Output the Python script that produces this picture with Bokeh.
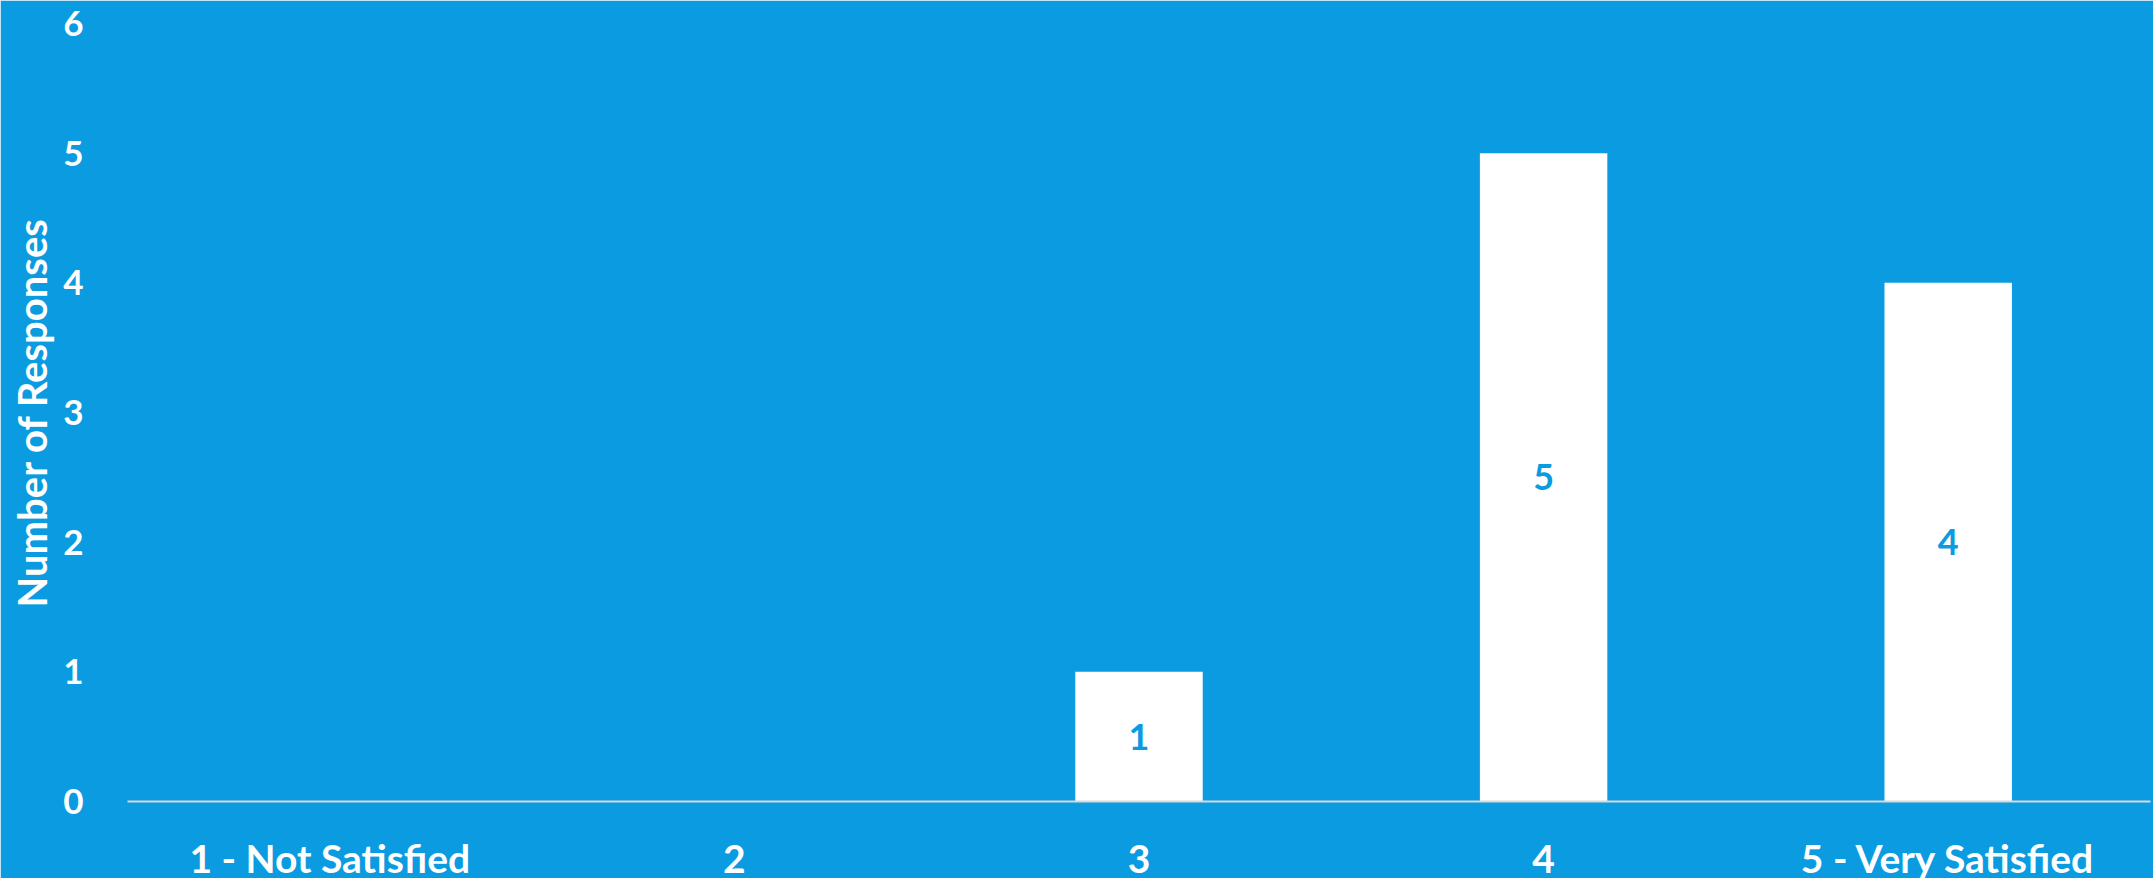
from bokeh.plotting import figure
from bokeh.models import ColumnDataSource, FixedTicker, LabelSet
from bokeh.core.properties import value
from bokeh.embed import file_html
from bokeh.resources import INLINE

# ---- data ----
categories = ["1 - Not Satisfied", "2", "3", "4", "5 - Very Satisfied"]
responses = [0, 0, 1, 5, 4]
y_ticks = [0, 1, 2, 3, 4, 5, 6]

BG = "#0B9BE0"
FONT = "Lato"

label_cats = [c for c, v in zip(categories, responses) if v > 0]
label_vals = [v for v in responses if v > 0]
label_pos = [v / 2 for v in label_vals]

src = ColumnDataSource(dict(cat=categories, val=responses))
lab_src = ColumnDataSource(dict(cat=label_cats, pos=label_pos, txt=[str(v) for v in label_vals]))

p = figure(x_range=categories, y_range=(0, 6),
           frame_width=2023, frame_height=778,
           output_backend="svg", toolbar_location=None,
           min_border_left=127, min_border_right=3, min_border_top=23, min_border_bottom=77)

p.background_fill_color = BG
p.border_fill_color = BG
p.outline_line_color = BG
p.outline_line_width = 3
p.xgrid.grid_line_color = None
p.ygrid.grid_line_color = None

p.vbar(x="cat", top="val", width=0.315, source=src, fill_color="white", line_color=None)

labels = LabelSet(x="cat", y="pos", text="txt", source=lab_src,
                  text_align="center", text_baseline="middle",
                  text_color=BG, text_font=value(FONT), text_font_style="bold",
                  text_font_size="36px")
p.add_layout(labels)

# y axis
p.yaxis.ticker = FixedTicker(ticks=y_ticks)
p.yaxis.axis_line_color = None
p.yaxis.major_tick_line_color = None
p.yaxis.minor_tick_line_color = None
p.yaxis.major_label_text_color = "white"
p.yaxis.major_label_text_font = FONT
p.yaxis.major_label_text_font_style = "bold"
p.yaxis.major_label_text_font_size = "35px"
p.yaxis.major_label_standoff = 38
p.yaxis.axis_label = "Number of Responses"
p.yaxis.axis_label_text_color = "white"
p.yaxis.axis_label_text_font = FONT
p.yaxis.axis_label_text_font_style = "bold"
p.yaxis.axis_label_text_font_size = "40px"
p.yaxis.axis_label_standoff = 4

# x axis
p.xaxis.axis_line_color = "#D9D9D9"
p.xaxis.axis_line_width = 2
p.xaxis.major_tick_line_color = None
p.xaxis.minor_tick_line_color = None
p.xaxis.major_label_text_color = "white"
p.xaxis.major_label_text_font = FONT
p.xaxis.major_label_text_font_style = "bold"
p.xaxis.major_label_text_font_size = "39px"
p.xaxis.major_label_standoff = 27

open("out.html", "w").write(file_html(p, INLINE))
